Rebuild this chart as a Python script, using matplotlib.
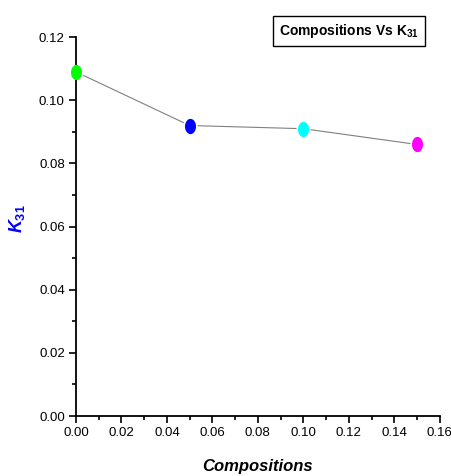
import matplotlib
matplotlib.use("Agg")
import matplotlib.pyplot as plt
import numpy as np
from matplotlib.ticker import MultipleLocator
from matplotlib.path import Path

compositions = [0.00, 0.05, 0.10, 0.15]
k31 = [0.109, 0.092, 0.091, 0.086]
colors = ["#00ff00", "#0000ff", "#00ffff", "#ff00ff"]

plt.rcParams['font.family'] = ['Liberation Sans', 'DejaVu Sans']
plt.rcParams['mathtext.fontset'] = 'custom'
plt.rcParams['mathtext.rm'] = 'Liberation Sans:bold'
plt.rcParams['mathtext.it'] = 'Liberation Sans:bold:italic'
plt.rcParams['mathtext.bf'] = 'Liberation Sans:bold'

t = np.linspace(0, 2 * np.pi, 40)
ellipse = Path(np.column_stack([0.72 * np.cos(t), np.sin(t)]), closed=True)

fig = plt.figure(figsize=(4.52, 4.76), dpi=100)
ax = fig.add_axes([0.168, 0.126, 0.805, 0.796])
ax.plot(compositions, k31, color="#808080", lw=0.8, zorder=1)
for x, y, c in zip(compositions, k31, colors):
    ax.plot(x, y, marker=ellipse, markersize=11, color=c, markeredgecolor='white',
            markeredgewidth=2.2, zorder=2, clip_on=False)
    ax.plot(x, y, marker=ellipse, markersize=11, color=c, markeredgewidth=0, zorder=3,
            clip_on=False)

ax.set_xlim(0, 0.16)
ax.set_ylim(0, 0.12)
ax.xaxis.set_major_locator(MultipleLocator(0.02))
ax.xaxis.set_minor_locator(MultipleLocator(0.01))
ax.yaxis.set_major_locator(MultipleLocator(0.02))
ax.yaxis.set_minor_locator(MultipleLocator(0.01))
ax.xaxis.set_major_formatter(plt.FormatStrFormatter('%.2f'))
ax.yaxis.set_major_formatter(plt.FormatStrFormatter('%.2f'))
ax.spines['top'].set_visible(False)
ax.spines['right'].set_visible(False)
ax.spines['left'].set_linewidth(1.3)
ax.spines['bottom'].set_linewidth(1.3)
ax.tick_params(which='major', direction='out', length=5, width=1.2, labelsize=9.5, pad=3)
ax.tick_params(which='minor', direction='out', length=3, width=1.2)

ax.set_xlabel("Compositions", fontsize=12, fontweight='bold', fontstyle='italic', labelpad=14)
ax.set_ylabel("$\\mathit{K}_{\\mathit{31}}$", fontsize=13, color='blue')
ax.yaxis.set_label_coords(-0.135, 0.52)

fig.text(0.772, 0.935, "Compositions Vs $\\mathrm{K}_{\\mathrm{31}}$", fontsize=10, fontweight='bold',
         ha='center', va='center',
         bbox=dict(boxstyle='square,pad=0.45', facecolor='white', edgecolor='black', lw=1.0))

fig.savefig("out.png", dpi=100)
